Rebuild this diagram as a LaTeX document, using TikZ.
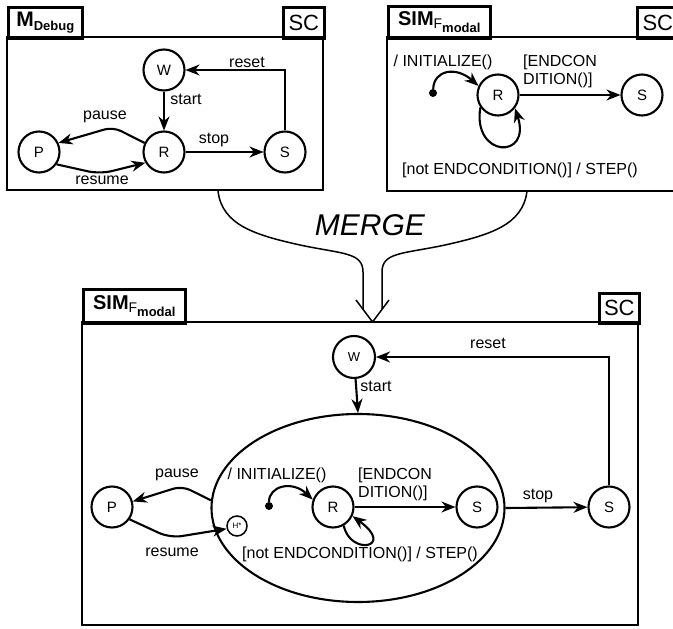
\documentclass[tikz,border=0pt]{standalone}
\usepackage{fontspec}
\setmainfont{Liberation Sans}
\usetikzlibrary{arrows.meta,shapes.geometric}

\tikzset{
  frm/.style={line width=2.6pt},
  tabbox/.style={draw, line width=2.6pt, inner sep=0pt, anchor=north west},
  st/.style={circle, draw, line width=2.1pt, minimum size=41pt, inner sep=0pt, font=\fontsize{15}{15}\selectfont},
  lbl/.style={inner sep=0pt, font=\fontsize{16}{18}\selectfont},
  tr/.style={line width=2.1pt, -{Stealth[length=14pt,width=11pt,inset=4.5pt]}},
  initdot/.style={circle, fill, inner sep=0pt, minimum size=8pt},
}
\newcommand{\dbgname}{\fontsize{21}{21}\selectfont\textbf{M}\raisebox{-4pt}{\fontsize{13}{13}\selectfont\textbf{Debug}}}
\newcommand{\simname}{\fontsize{20}{20}\selectfont\textbf{SIM}\raisebox{-3pt}{\fontsize{14}{14}\selectfont F\raisebox{-4pt}{\fontsize{13}{13}\selectfont\textbf{modal}}}}
\newcommand{\scname}{\fontsize{22}{22}\selectfont SC}

\begin{document}
\begin{tikzpicture}[x=1pt,y=1pt,yscale=-1,xscale=1]
\useasboundingbox (0,0) rectangle (673,629);

% debug machine
\draw[frm] (7,37) rectangle (323,190);
\node[tabbox, minimum width=74pt, minimum height=31pt] (dbgTab) at (7,6) {\dbgname};
\node[tabbox, minimum width=41pt, minimum height=31pt] (dbgSC) at (282,6) {\scname};

\node[st] (dbgW) at (164,70) {W};
\node[st] (dbgR) at (164,152) {R};
\node[st] (dbgP) at (39,152) {P};
\node[st] (dbgS) at (285,152) {S};

\draw[tr] (dbgS.north) |- (dbgW.east);
\draw[tr] (dbgW) -- (dbgR);
\draw[tr] (dbgR) -- (dbgS);
\draw[tr, rounded corners=9pt] (dbgR.155) -- (113,127) -- (dbgP.25);
\draw[tr, rounded corners=12pt] (dbgP.-35) -- (100,174) -- (dbgR.-150);

\node[lbl] (dbgReset) at (247,62) {reset};
\node[lbl] (dbgStart) at (186,99) {start};
\node[lbl] (dbgStop) at (214,140) {stop};
\node[lbl] (dbgPause) at (105,117) {pause};
\node[lbl] (dbgResume) at (102,180) {resume};

% simulation machine
\draw[frm] (387,37) rectangle (677,191);
\node[tabbox, minimum width=102pt, minimum height=32pt] (simTab) at (387,5) {\simname};
\node[tabbox, minimum width=41pt, minimum height=31pt] (simSC) at (636,6) {\scname};

\node[initdot] (simInit) at (433,93) {};
\node[st] (simR) at (498,95) {R};
\node[st] (simS) at (642,95) {S};

\draw[tr] (simInit) .. controls (434,70) and (456,66) .. (simR.155);
\draw[tr] (simR) -- (simS);
\draw[tr] (simR.215) .. controls (472,158) and (532,160) .. (simR.-38);

\node[lbl] (simInitLbl) at (443,62) {/ INITIALIZE()};
\node[lbl, anchor=west, align=left] (simEnd) at (523,71) {[ENDCON\\DITION()]};
\node[lbl] (simStep) at (520,170) {[not ENDCONDITION()] / STEP()};

% merge
\coordinate (mergeL) at (218,191);
\coordinate (mergeR) at (527,191);
\draw[line width=1.5pt] (mergeL) .. controls (222,225) and (255,235) .. (300,245) .. controls (342,254) and (363,252) .. (363,272) -- (363,309);
\draw[line width=1.5pt] (mergeR) .. controls (523,225) and (490,235) .. (445,245) .. controls (403,254) and (382,252) .. (382,272) -- (382,309);
\draw[line width=1.5pt] (356,300) -- (372.5,322) -- (389,300);
\node[font=\fontsize{30}{30}\selectfont\itshape] (mergeLbl) at (370,225) {MERGE};

% merged machine
\draw[frm] (82,322) rectangle (638,625);
\node[tabbox, minimum width=102pt, minimum height=34pt] (mTab) at (82,288) {\simname};
\node[tabbox, minimum width=40pt, minimum height=30pt] (mSC) at (598,292) {\scname};

\node[st, minimum size=42pt, font=\fontsize{13}{13}\selectfont] (mW) at (354,357) {W};
\node[ellipse, draw, line width=2.1pt, minimum width=293pt, minimum height=188pt] (mSuper) at (358,508) {};
\node[st] (mP) at (112,507) {P};
\node[st] (mSout) at (609,507) {S};
\node[circle, draw, line width=1.5pt, minimum size=20pt, inner sep=0pt, font=\fontsize{8}{8}\selectfont] (mH) at (237,526) {H*};
\node[initdot] (mInit) at (269,506) {};
\node[st] (mR) at (333,507) {R};
\node[st] (mS) at (477,507) {S};

\draw[tr] (mSout.north) |- (mW.east);
\draw[tr] (mW) -- (mSuper.north);
\draw[tr] (mSuper.east) -- (mSout);
\draw[tr, rounded corners=9pt] (mSuper.177) -- (182,486) -- (mP.15);
\draw[tr, rounded corners=12pt] (mP.-35) -- (170,538) -- (mH.195);
\draw[tr] (mInit) .. controls (269,486) and (292,480) .. (mR.160);
\draw[tr] (mR) -- (mS);
\draw[tr] (mR.-60) .. controls (350,556) and (396,548) .. (mR.-25);

\node[lbl] (mReset) at (488,343) {reset};
\node[lbl] (mStart) at (376,386) {start};
\node[lbl] (mStop) at (538,496) {stop};
\node[lbl] (mPause) at (177,475) {pause};
\node[lbl] (mResume) at (172,552) {resume};
\node[lbl] (mInitLbl) at (277,475) {/ INITIALIZE()};
\node[lbl, anchor=west, align=left] (mEnd) at (358,484) {[ENDCON\\DITION()]};
\node[lbl] (mStep) at (360,554) {[not ENDCONDITION()] / STEP()};

\end{tikzpicture}
\end{document}
